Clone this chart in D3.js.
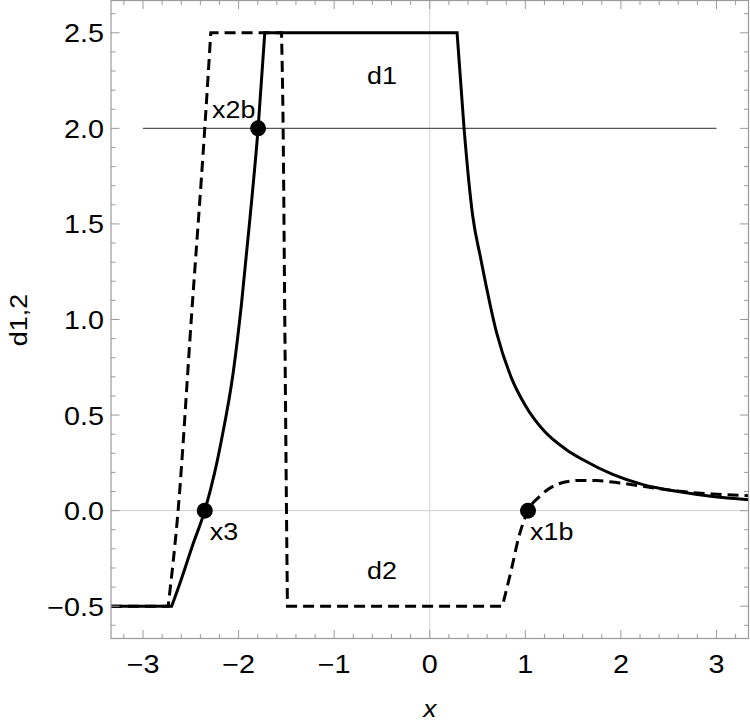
<!DOCTYPE html>
<html><head><meta charset="utf-8">
<script src="https://cdn.jsdelivr.net/npm/d3@7"></script>
<style>body{margin:0;background:#fff}</style>
</head><body><svg id="c" width="750" height="725"></svg>
<script>
// ---- data ----
const d1X = [-3.335, -2.70, -2.60, -2.48, -2.354, -2.25, -2.179, -2.057, -1.97, -1.883, -1.796, -1.726,
             0.286, 0.359, 0.45, 0.533, 0.70, 0.85, 1.0, 1.2, 1.43, 1.604, 1.92, 2.23, 2.615, 2.963, 3.335];
const d1Y = [-0.5, -0.5, -0.36, -0.18, 0, 0.2, 0.37, 0.72, 1.08, 1.52, 2.0, 2.5,
             2.5, 2.0, 1.54, 1.32, 0.93, 0.70, 0.55, 0.415, 0.319, 0.266, 0.188, 0.136, 0.099, 0.074, 0.057];
const d2X = [-3.335, -2.737, -2.633, -2.493, -2.354, -2.291, -1.551, -1.534, -1.517, -1.499, -1.489,
             0.760, 0.854, 0.934, 1.028, 1.151, 1.325, 1.534, 1.744, 1.987, 2.231, 2.615, 2.963, 3.335];
const d2Y = [-0.5, -0.5, 0, 1.015, 2.0, 2.5, 2.5, 2.0, 1.015, 0, -0.5,
             -0.5, -0.308, -0.134, 0, 0.075, 0.136, 0.158, 0.158, 0.145, 0.127, 0.101, 0.087, 0.078];
const markerX = [-2.354, -1.796, 1.028];
const markerY = [0, 2, 0];
const markerLabels = ["x3", "x2b", "x1b"];
const curveLabels = ["d1", "d2"];
const refLineX = [-3, 3];
const refLineY = 2;
const xTicks = [-3, -2, -1, 0, 1, 2, 3];
const xTickLabels = ["\u22123", "\u22122", "\u22121", "0", "1", "2", "3"];
const yTicks = [-0.5, 0, 0.5, 1, 1.5, 2, 2.5];
const yTickLabels = ["\u22120.5", "0.0", "0.5", "1.0", "1.5", "2.0", "2.5"];
const xDomain = [-3.335, 3.335];
const yDomain = [-0.669, 2.669];

// ---- layout ----
const L = 111, R = 748.5, T = 0.5, B = 638.5;
const FONT = "'Liberation Sans', Arial, Helvetica, sans-serif";
const svg = d3.select("#c");
const x = d3.scaleLinear().domain(xDomain).range([L, R]);
const y = d3.scaleLinear().domain(yDomain).range([B, T]);

svg.append("defs").append("clipPath").attr("id", "clip")
  .append("rect").attr("x", L).attr("y", T).attr("width", R - L).attr("height", B - T);

const plot = svg.append("g").attr("clip-path", "url(#clip)");

// axes lines through origin
plot.append("line").attr("x1", x(0)).attr("x2", x(0)).attr("y1", T).attr("y2", B)
  .attr("stroke", "#d2d2d2").attr("stroke-width", 1);
plot.append("line").attr("x1", L).attr("x2", R).attr("y1", y(0)).attr("y2", y(0))
  .attr("stroke", "#d2d2d2").attr("stroke-width", 1);

// reference line
plot.append("line").attr("x1", x(refLineX[0])).attr("x2", x(refLineX[1]))
  .attr("y1", y(refLineY)).attr("y2", y(refLineY))
  .attr("stroke", "#555").attr("stroke-width", 1.3);

function buildPath(xs, ys) {
  const pts = xs.map((v, i) => [v, ys[i]]);
  const pieces = [];
  let cur = [pts[0]], curFlat = null;
  for (let i = 1; i < pts.length; i++) {
    const flat = ys[i] === ys[i - 1];
    if (curFlat === null || flat === curFlat) { cur.push(pts[i]); curFlat = flat; }
    else { pieces.push({ pts: cur, flat: curFlat }); cur = [pts[i - 1], pts[i]]; curFlat = flat; }
  }
  pieces.push({ pts: cur, flat: curFlat });
  let d = "";
  pieces.forEach((p, k) => {
    const gen = d3.line().x(e => x(e[0])).y(e => y(e[1]))
      .curve(p.flat ? d3.curveLinear : d3.curveMonotoneX);
    let s = gen(p.pts);
    if (k > 0) s = s.replace(/^M/, "L");
    d += s;
  });
  return d;
}

plot.append("path").attr("d", buildPath(d2X, d2Y)).attr("fill", "none")
  .attr("stroke", "#000").attr("stroke-width", 3).attr("stroke-dasharray", "11,6");
plot.append("path").attr("d", buildPath(d1X, d1Y)).attr("fill", "none")
  .attr("stroke", "#000").attr("stroke-width", 3);

// markers
plot.selectAll("circle.m").data(markerX).enter().append("circle")
  .attr("cx", (d) => x(d)).attr("cy", (d, i) => y(markerY[i])).attr("r", 8).attr("fill", "#000");

// text helper with slight horizontal stretch to mimic the reference face
function txt(g, px, py, s, size, anchor, sx, extra) {
  const t = g.append("text").attr("transform", `translate(${px},${py}) scale(${sx},1)`)
    .attr("font-family", FONT).attr("font-size", size).attr("text-anchor", anchor)
    .attr("fill", "#000").text(s);
  if (extra) extra(t);
  return t;
}

const lab = svg.append("g");
// marker labels
const mOff = [[5, 29], [-46, -10], [2, 29]];
markerLabels.forEach((s, i) => {
  txt(lab, x(markerX[i]) + mOff[i][0], y(markerY[i]) + mOff[i][1], s, 24, "start", 1.12);
});
// curve labels
txt(lab, x(-0.5), y(2.5) + 51, curveLabels[0], 24, "middle", 1.12);
txt(lab, x(-0.5), y(-0.5) - 27, curveLabels[1], 24, "middle", 1.12);

// frame and ticks
const axc = "#9a9a9a";
const fr = svg.append("g");
fr.append("rect").attr("x", L).attr("y", T).attr("width", R - L).attr("height", B - T)
  .attr("fill", "none").attr("stroke", axc).attr("stroke-width", 1.2);
const xMinor = d3.range(-3.2, 3.3, 0.2).map(v => +v.toFixed(2)).filter(v => !xTicks.some(t => Math.abs(t - v) < 1e-6));
const yMinor = d3.range(-0.6, 2.65, 0.1).map(v => +v.toFixed(2)).filter(v => !yTicks.some(t => Math.abs(t - v) < 1e-6));
function tk(x1, y1, x2, y2) {
  fr.append("line").attr("x1", x1).attr("y1", y1).attr("x2", x2).attr("y2", y2)
    .attr("stroke", axc).attr("stroke-width", 1);
}
xTicks.forEach(v => { tk(x(v), B, x(v), B - 8.5); tk(x(v), T, x(v), T + 8.5); });
xMinor.forEach(v => { tk(x(v), B, x(v), B - 4.5); tk(x(v), T, x(v), T + 4.5); });
yTicks.forEach(v => { tk(L, y(v), L + 8.5, y(v)); tk(R, y(v), R - 8.5, y(v)); });
yMinor.forEach(v => { tk(L, y(v), L + 4.5, y(v)); tk(R, y(v), R - 4.5, y(v)); });

// tick labels
xTicks.forEach((v, i) => txt(fr, x(v), 673, xTickLabels[i], 25, "middle", 1.15));
yTicks.forEach((v, i) => txt(fr, 104, y(v) + 9.5, yTickLabels[i], 25, "end", 1.15));

// axis titles
txt(svg, x(0), 717, "x", 24, "middle", 1.1, t => t.attr("font-style", "italic"));
svg.append("text").attr("transform", "translate(27,320) rotate(-90) scale(1.12,1)")
  .attr("font-family", FONT).attr("font-size", 24).attr("text-anchor", "middle").text("d1,2");
</script></body></html>
